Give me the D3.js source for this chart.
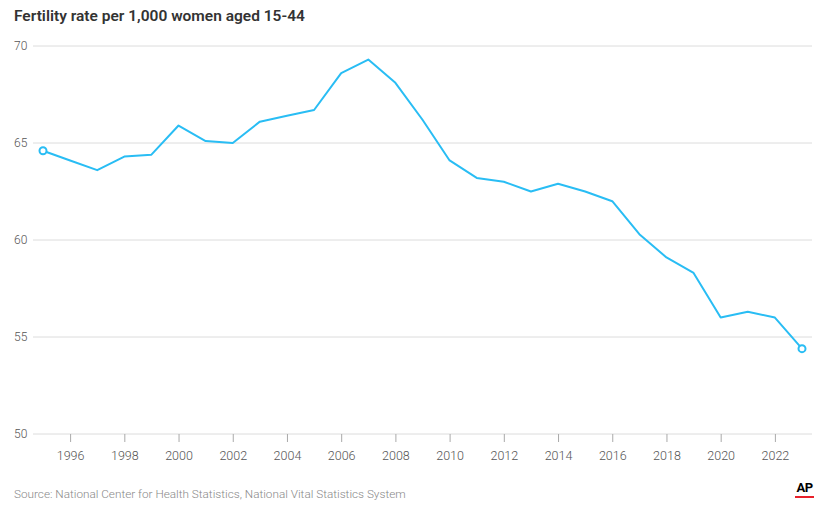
<!DOCTYPE html>
<html>
<head>
<meta charset="utf-8">
<script src="https://cdn.jsdelivr.net/npm/d3@7"></script>
<style>
  body { margin: 0; background: #fff; }
  svg { display: block; font-family: Roboto, "Noto Sans", sans-serif; }
</style>
</head>
<body>
<div id="chart"></div>
<script>
const years = [1995, 1996, 1997, 1998, 1999, 2000, 2001, 2002, 2003, 2004,
  2005, 2006, 2007, 2008, 2009, 2010, 2011, 2012, 2013, 2014,
  2015, 2016, 2017, 2018, 2019, 2020, 2021, 2022, 2023]
const rates = [64.6, 64.1, 63.6, 64.3, 64.4, 65.9, 65.1, 65.0, 66.1, 66.4,
  66.7, 68.6, 69.3, 68.1, 66.2, 64.1, 63.2, 63.0, 62.5, 62.9,
  62.5, 62.0, 60.3, 59.1, 58.3, 56.0, 56.3, 56.0, 54.4]
const yTicks = [50, 55, 60, 65, 70]
const xTicks = [1996, 1998, 2000, 2002, 2004, 2006, 2008, 2010, 2012, 2014, 2016, 2018, 2020, 2022]

const width = 833, height = 510
const margin = { top: 46, right: 21, bottom: 76, left: 33 }
const lineColor = "#29bdf4"

const svg = d3.select("#chart").append("svg")
  .attr("width", width).attr("height", height)

svg.append("text")
  .attr("x", 14).attr("y", 21)
  .attr("font-size", 15.5).attr("font-weight", 600)
  .attr("fill", "#333")
  .text("Fertility rate per 1,000 women aged 15-44")

// 1995 at ~43px, 2023 at ~802px; axis runs 33..812
const x = d3.scaleLinear().domain([1995, 2023]).range([43, 802])
const y = d3.scaleLinear().domain([50, 70]).range([434, 46])

// gridlines + y labels
const grid = svg.append("g")
yTicks.forEach(t => {
  grid.append("line")
    .attr("x1", margin.left).attr("x2", width - margin.right)
    .attr("y1", y(t)).attr("y2", y(t))
    .attr("stroke", "#dcdcdc").attr("stroke-width", 1)
  grid.append("text")
    .attr("x", 14).attr("y", y(t) + 4)
    .attr("font-size", 12).attr("font-weight", 300).attr("fill", "#555")
    .text(t)
})

// x axis
svg.append("g")
  .attr("transform", `translate(0,${y(50)})`)
  .call(d3.axisBottom(x).tickValues(xTicks).tickFormat(d3.format("d")).tickSize(8).tickPadding(9))
  .call(g => g.select(".domain").remove())
  .call(g => g.selectAll(".tick line").attr("stroke", "#aaa"))
  .call(g => g.selectAll(".tick text").attr("font-size", 12.5).attr("font-weight", 300).attr("fill", "#555")
    .attr("font-family", "Roboto, 'Noto Sans', sans-serif"))

const data = years.map((yr, i) => ({ year: yr, rate: rates[i] }))

svg.append("path")
  .datum(data)
  .attr("fill", "none")
  .attr("stroke", lineColor)
  .attr("stroke-width", 2)
  .attr("stroke-linejoin", "round")
  .attr("d", d3.line().x(d => x(d.year)).y(d => y(d.rate)))

svg.selectAll("circle.end")
  .data([data[0], data[data.length - 1]])
  .join("circle")
  .attr("class", "end")
  .attr("cx", d => x(d.year)).attr("cy", d => y(d.rate))
  .attr("r", 3.5)
  .attr("fill", "#fff")
  .attr("stroke", lineColor)
  .attr("stroke-width", 2)

svg.append("text")
  .attr("x", 14).attr("y", 498)
  .attr("font-size", 11.75).attr("font-weight", 300).attr("fill", "#888")
  .text("Source: National Center for Health Statistics, National Vital Statistics System")

// AP logo
svg.append("text")
  .attr("x", 804.5).attr("y", 491.5)
  .attr("text-anchor", "middle")
  .attr("font-size", 13).attr("font-weight", 700)
  .attr("letter-spacing", -0.5)
  .attr("fill", "#000")
  .text("AP")
svg.append("rect")
  .attr("x", 795).attr("y", 496).attr("width", 19).attr("height", 2)
  .attr("fill", "#e8202a")
</script>
</body>
</html>
